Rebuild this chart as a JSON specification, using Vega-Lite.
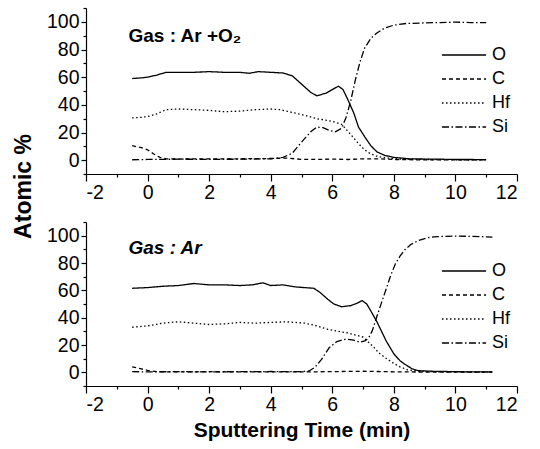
{
  "$schema": "https://vega.github.io/schema/vega-lite/v6.json",
  "padding": {"left": 12, "top": 7, "right": 8, "bottom": 4},
  "background": "white",
  "config": {
    "view": {"stroke": null},
    "font": "Liberation Sans",
    "axis": {
      "domainColor": "black", "tickColor": "black", "labelColor": "black", "titleColor": "black",
      "grid": false, "labelFont": "Liberation Sans", "titleFont": "Liberation Sans",
      "labelFontSize": 19.5, "domainWidth": 1.2, "tickWidth": 1.2, "titleFontWeight": "bold", "titleFontSize": 21,
      "labelExpr": "replace(datum.label, '\u2212', '-')"
    },
    "legend": {"labelFont": "Liberation Sans", "labelFontSize": 18, "labelColor": "black"}
  },
  "data": {"values": [
    {"panel":"top","el":"O","t":-0.5,"v":59},{"panel":"top","el":"O","t":-0.2,"v":59.5},{"panel":"top","el":"O","t":0,"v":60},{"panel":"top","el":"O","t":0.3,"v":61.5},{"panel":"top","el":"O","t":0.6,"v":63.5},{"panel":"top","el":"O","t":1,"v":63.5},{"panel":"top","el":"O","t":1.5,"v":63.5},{"panel":"top","el":"O","t":2,"v":64},{"panel":"top","el":"O","t":2.5,"v":63.5},{"panel":"top","el":"O","t":3,"v":63.5},{"panel":"top","el":"O","t":3.3,"v":62.8},{"panel":"top","el":"O","t":3.6,"v":64},{"panel":"top","el":"O","t":4,"v":63.5},{"panel":"top","el":"O","t":4.4,"v":63},{"panel":"top","el":"O","t":4.7,"v":61},{"panel":"top","el":"O","t":5,"v":55},{"panel":"top","el":"O","t":5.3,"v":49},{"panel":"top","el":"O","t":5.5,"v":46.5},{"panel":"top","el":"O","t":5.8,"v":48.5},{"panel":"top","el":"O","t":6,"v":51},{"panel":"top","el":"O","t":6.2,"v":53.5},{"panel":"top","el":"O","t":6.35,"v":51},{"panel":"top","el":"O","t":6.5,"v":44},{"panel":"top","el":"O","t":6.7,"v":34},{"panel":"top","el":"O","t":6.85,"v":24},{"panel":"top","el":"O","t":7.05,"v":17},{"panel":"top","el":"O","t":7.25,"v":10.5},{"panel":"top","el":"O","t":7.45,"v":6},{"panel":"top","el":"O","t":7.7,"v":3.5},{"panel":"top","el":"O","t":8,"v":2},{"panel":"top","el":"O","t":8.5,"v":1},{"panel":"top","el":"O","t":9,"v":0.8},{"panel":"top","el":"O","t":9.5,"v":0.7},{"panel":"top","el":"O","t":10,"v":0.5},{"panel":"top","el":"O","t":10.5,"v":0.5},{"panel":"top","el":"O","t":11,"v":0.3},
    {"panel":"top","el":"C","t":-0.5,"v":10.5},{"panel":"top","el":"C","t":-0.2,"v":9},{"panel":"top","el":"C","t":0,"v":7.5},{"panel":"top","el":"C","t":0.2,"v":4.5},{"panel":"top","el":"C","t":0.4,"v":2},{"panel":"top","el":"C","t":0.6,"v":1},{"panel":"top","el":"C","t":1,"v":0.8},{"panel":"top","el":"C","t":2,"v":1},{"panel":"top","el":"C","t":3,"v":1},{"panel":"top","el":"C","t":4,"v":1.2},{"panel":"top","el":"C","t":4.5,"v":1.5},{"panel":"top","el":"C","t":5,"v":0.6},{"panel":"top","el":"C","t":5.5,"v":0.5},{"panel":"top","el":"C","t":6,"v":0.8},{"panel":"top","el":"C","t":6.5,"v":0.5},{"panel":"top","el":"C","t":7,"v":1},{"panel":"top","el":"C","t":7.5,"v":1},{"panel":"top","el":"C","t":8,"v":0.5},{"panel":"top","el":"C","t":9,"v":0.2},{"panel":"top","el":"C","t":10,"v":0.2},{"panel":"top","el":"C","t":11,"v":0.2},
    {"panel":"top","el":"Hf","t":-0.5,"v":30.5},{"panel":"top","el":"Hf","t":-0.2,"v":31},{"panel":"top","el":"Hf","t":0,"v":31.5},{"panel":"top","el":"Hf","t":0.3,"v":33.5},{"panel":"top","el":"Hf","t":0.6,"v":36.5},{"panel":"top","el":"Hf","t":1,"v":37},{"panel":"top","el":"Hf","t":1.5,"v":36.5},{"panel":"top","el":"Hf","t":2,"v":36},{"panel":"top","el":"Hf","t":2.5,"v":35},{"panel":"top","el":"Hf","t":3,"v":35.5},{"panel":"top","el":"Hf","t":3.5,"v":36.5},{"panel":"top","el":"Hf","t":4,"v":37},{"panel":"top","el":"Hf","t":4.3,"v":36.5},{"panel":"top","el":"Hf","t":4.7,"v":34.5},{"panel":"top","el":"Hf","t":5,"v":33},{"panel":"top","el":"Hf","t":5.5,"v":30},{"panel":"top","el":"Hf","t":6,"v":28},{"panel":"top","el":"Hf","t":6.3,"v":26},{"panel":"top","el":"Hf","t":6.5,"v":21},{"panel":"top","el":"Hf","t":6.7,"v":16},{"panel":"top","el":"Hf","t":6.85,"v":12},{"panel":"top","el":"Hf","t":7.05,"v":7.5},{"panel":"top","el":"Hf","t":7.25,"v":4.5},{"panel":"top","el":"Hf","t":7.5,"v":2.5},{"panel":"top","el":"Hf","t":7.8,"v":1.5},{"panel":"top","el":"Hf","t":8.2,"v":0.8},{"panel":"top","el":"Hf","t":9,"v":0.5},{"panel":"top","el":"Hf","t":10,"v":0.3},{"panel":"top","el":"Hf","t":11,"v":0.2},
    {"panel":"top","el":"Si","t":-0.5,"v":0.3},{"panel":"top","el":"Si","t":0,"v":0.5},{"panel":"top","el":"Si","t":1,"v":0.7},{"panel":"top","el":"Si","t":2,"v":0.6},{"panel":"top","el":"Si","t":3,"v":0.7},{"panel":"top","el":"Si","t":4,"v":1},{"panel":"top","el":"Si","t":4.4,"v":2},{"panel":"top","el":"Si","t":4.7,"v":5},{"panel":"top","el":"Si","t":5,"v":13},{"panel":"top","el":"Si","t":5.3,"v":20.5},{"panel":"top","el":"Si","t":5.5,"v":24},{"panel":"top","el":"Si","t":5.7,"v":23.5},{"panel":"top","el":"Si","t":5.9,"v":21.5},{"panel":"top","el":"Si","t":6.1,"v":20.5},{"panel":"top","el":"Si","t":6.3,"v":23},{"panel":"top","el":"Si","t":6.45,"v":31},{"panel":"top","el":"Si","t":6.6,"v":43},{"panel":"top","el":"Si","t":6.75,"v":58},{"panel":"top","el":"Si","t":6.9,"v":71},{"panel":"top","el":"Si","t":7.05,"v":81},{"panel":"top","el":"Si","t":7.25,"v":88},{"panel":"top","el":"Si","t":7.45,"v":92},{"panel":"top","el":"Si","t":7.7,"v":95.5},{"panel":"top","el":"Si","t":8,"v":97.6},{"panel":"top","el":"Si","t":8.4,"v":98.8},{"panel":"top","el":"Si","t":9,"v":99.2},{"panel":"top","el":"Si","t":9.5,"v":99.5},{"panel":"top","el":"Si","t":10,"v":99.8},{"panel":"top","el":"Si","t":10.5,"v":99.5},{"panel":"top","el":"Si","t":11,"v":99.5},
    {"panel":"bottom","el":"O","t":-0.5,"v":61.5},{"panel":"bottom","el":"O","t":0,"v":62},{"panel":"bottom","el":"O","t":0.5,"v":63},{"panel":"bottom","el":"O","t":1,"v":63.5},{"panel":"bottom","el":"O","t":1.5,"v":65},{"panel":"bottom","el":"O","t":2,"v":64},{"panel":"bottom","el":"O","t":2.5,"v":64},{"panel":"bottom","el":"O","t":3,"v":63.5},{"panel":"bottom","el":"O","t":3.4,"v":64},{"panel":"bottom","el":"O","t":3.75,"v":65.5},{"panel":"bottom","el":"O","t":4,"v":63.5},{"panel":"bottom","el":"O","t":4.4,"v":64},{"panel":"bottom","el":"O","t":4.8,"v":62.5},{"panel":"bottom","el":"O","t":5.1,"v":62},{"panel":"bottom","el":"O","t":5.4,"v":61.5},{"panel":"bottom","el":"O","t":5.6,"v":58.5},{"panel":"bottom","el":"O","t":5.85,"v":53.5},{"panel":"bottom","el":"O","t":6.05,"v":50},{"panel":"bottom","el":"O","t":6.3,"v":48},{"panel":"bottom","el":"O","t":6.6,"v":48.8},{"panel":"bottom","el":"O","t":6.8,"v":50.5},{"panel":"bottom","el":"O","t":6.97,"v":52.5},{"panel":"bottom","el":"O","t":7.12,"v":50},{"panel":"bottom","el":"O","t":7.25,"v":45},{"panel":"bottom","el":"O","t":7.45,"v":37},{"panel":"bottom","el":"O","t":7.6,"v":30},{"panel":"bottom","el":"O","t":7.75,"v":23},{"panel":"bottom","el":"O","t":8,"v":13.5},{"panel":"bottom","el":"O","t":8.2,"v":8.5},{"panel":"bottom","el":"O","t":8.35,"v":6},{"panel":"bottom","el":"O","t":8.6,"v":2.5},{"panel":"bottom","el":"O","t":8.8,"v":1.2},{"panel":"bottom","el":"O","t":9.2,"v":0.8},{"panel":"bottom","el":"O","t":10,"v":0.5},{"panel":"bottom","el":"O","t":10.5,"v":0.3},{"panel":"bottom","el":"O","t":11.2,"v":0.3},
    {"panel":"bottom","el":"C","t":-0.5,"v":4},{"panel":"bottom","el":"C","t":-0.2,"v":2.5},{"panel":"bottom","el":"C","t":0,"v":1.5},{"panel":"bottom","el":"C","t":0.3,"v":0.5},{"panel":"bottom","el":"C","t":1,"v":0.3},{"panel":"bottom","el":"C","t":2,"v":0.5},{"panel":"bottom","el":"C","t":3,"v":0.3},{"panel":"bottom","el":"C","t":4,"v":0.4},{"panel":"bottom","el":"C","t":5,"v":0.3},{"panel":"bottom","el":"C","t":6,"v":0.5},{"panel":"bottom","el":"C","t":7,"v":0.8},{"panel":"bottom","el":"C","t":7.5,"v":0.6},{"panel":"bottom","el":"C","t":8,"v":0.4},{"panel":"bottom","el":"C","t":9,"v":0.2},{"panel":"bottom","el":"C","t":10,"v":0.2},{"panel":"bottom","el":"C","t":11.2,"v":0.2},
    {"panel":"bottom","el":"Hf","t":-0.5,"v":33},{"panel":"bottom","el":"Hf","t":0,"v":34},{"panel":"bottom","el":"Hf","t":0.5,"v":36},{"panel":"bottom","el":"Hf","t":1,"v":37},{"panel":"bottom","el":"Hf","t":1.5,"v":36},{"panel":"bottom","el":"Hf","t":2,"v":35},{"panel":"bottom","el":"Hf","t":2.5,"v":35.5},{"panel":"bottom","el":"Hf","t":3,"v":36.5},{"panel":"bottom","el":"Hf","t":3.5,"v":36},{"panel":"bottom","el":"Hf","t":4,"v":36.5},{"panel":"bottom","el":"Hf","t":4.5,"v":37},{"panel":"bottom","el":"Hf","t":5.1,"v":36},{"panel":"bottom","el":"Hf","t":5.5,"v":34},{"panel":"bottom","el":"Hf","t":5.85,"v":31.5},{"panel":"bottom","el":"Hf","t":6.2,"v":30},{"panel":"bottom","el":"Hf","t":6.5,"v":28.8},{"panel":"bottom","el":"Hf","t":7,"v":25.8},{"panel":"bottom","el":"Hf","t":7.2,"v":21.5},{"panel":"bottom","el":"Hf","t":7.35,"v":18.3},{"panel":"bottom","el":"Hf","t":7.5,"v":14.5},{"panel":"bottom","el":"Hf","t":7.7,"v":11},{"panel":"bottom","el":"Hf","t":8,"v":6.5},{"panel":"bottom","el":"Hf","t":8.2,"v":4},{"panel":"bottom","el":"Hf","t":8.45,"v":1.8},{"panel":"bottom","el":"Hf","t":8.8,"v":0.8},{"panel":"bottom","el":"Hf","t":9.5,"v":0.4},{"panel":"bottom","el":"Hf","t":10.5,"v":0.3},{"panel":"bottom","el":"Hf","t":11.2,"v":0.2},
    {"panel":"bottom","el":"Si","t":-0.5,"v":0.5},{"panel":"bottom","el":"Si","t":0,"v":0.3},{"panel":"bottom","el":"Si","t":1,"v":0.5},{"panel":"bottom","el":"Si","t":2,"v":0.3},{"panel":"bottom","el":"Si","t":3,"v":0.5},{"panel":"bottom","el":"Si","t":4,"v":0.6},{"panel":"bottom","el":"Si","t":5,"v":0.5},{"panel":"bottom","el":"Si","t":5.25,"v":1},{"panel":"bottom","el":"Si","t":5.45,"v":4},{"panel":"bottom","el":"Si","t":5.65,"v":9.5},{"panel":"bottom","el":"Si","t":5.9,"v":18},{"panel":"bottom","el":"Si","t":6.15,"v":22.5},{"panel":"bottom","el":"Si","t":6.45,"v":24.4},{"panel":"bottom","el":"Si","t":6.7,"v":23.5},{"panel":"bottom","el":"Si","t":6.9,"v":22},{"panel":"bottom","el":"Si","t":7.08,"v":23.2},{"panel":"bottom","el":"Si","t":7.2,"v":26},{"panel":"bottom","el":"Si","t":7.3,"v":30.5},{"panel":"bottom","el":"Si","t":7.45,"v":41},{"panel":"bottom","el":"Si","t":7.6,"v":51},{"panel":"bottom","el":"Si","t":7.75,"v":61},{"panel":"bottom","el":"Si","t":7.9,"v":71},{"panel":"bottom","el":"Si","t":8.05,"v":79.5},{"panel":"bottom","el":"Si","t":8.2,"v":85},{"panel":"bottom","el":"Si","t":8.35,"v":89.5},{"panel":"bottom","el":"Si","t":8.55,"v":93.5},{"panel":"bottom","el":"Si","t":8.8,"v":96.5},{"panel":"bottom","el":"Si","t":9.1,"v":98.5},{"panel":"bottom","el":"Si","t":9.4,"v":99.3},{"panel":"bottom","el":"Si","t":10,"v":99.7},{"panel":"bottom","el":"Si","t":10.5,"v":99.5},{"panel":"bottom","el":"Si","t":11.2,"v":99}
  ]},
  "spacing": 48,
  "bounds": "flush",
  "resolve": {"legend": {"strokeDash": "independent"}},
  "vconcat": [
    {
      "width": 431, "height": 166,
      "resolve": {"axis": {"x": "independent", "y": "independent"}},
      "layer": [
        {
          "transform": [{"filter": "datum.panel === 'top'"}],
          "mark": {"type": "line", "color": "black", "strokeWidth": 1.3},
          "encoding": {
            "x": {"field": "t", "type": "quantitative", "scale": {"domain": [-2, 12], "nice": false, "zero": false},
                  "axis": {"orient": "bottom", "values": [-2,0,2,4,6,8,10,12], "tickSize": 7, "labelPadding": 2, "title": null}},
            "y": {"field": "v", "type": "quantitative", "scale": {"domain": [-10, 110], "nice": false},
                  "axis": {"orient": "left", "values": [0,20,40,60,80,100], "tickSize": 5, "labelPadding": 2,
                           "title": "Atomic %", "titleFontSize": 23, "titleX": -56, "titleY": 178, "titleAngle": 270,
                           "titleAlign": "center", "titleBaseline": "alphabetic"}},
            "strokeDash": {"field": "el", "type": "nominal",
                           "scale": {"domain": ["O","C","Hf","Si"], "range": [[1,0],[4,3],[1.5,2.5],[7,2.5,1.5,2.5]]},
                           "legend": {"orient": "none", "legendX": 355, "legendY": 37, "title": null, "direction": "vertical",
                                      "symbolType": "stroke", "symbolSize": 1936, "symbolStrokeWidth": 1.3, "symbolStrokeColor": "black",
                                      "clipHeight": 20, "rowPadding": 4, "labelOffset": 5}},
            "detail": {"field": "el"}
          }
        },
        {
          "data": {"values": [{"label": "Gas : Ar +O₂"}]},
          "mark": {"type": "text", "align": "left", "baseline": "alphabetic", "fontSize": 19, "fontWeight": "bold", "font": "Liberation Sans", "color": "black"},
          "encoding": {
            "text": {"field": "label"},
            "x": {"datum": -0.62, "type": "quantitative", "axis": {"orient": "bottom", "values": [-1,1,3,5,7,9,11], "labels": false, "domain": false, "tickSize": 3, "title": null}},
            "y": {"datum": 85.5, "type": "quantitative", "axis": {"orient": "left", "values": [-10,10,30,50,70,90,110], "labels": false, "domain": false, "tickSize": 3, "title": null}}
          }
        }
      ]
    },
    {
      "width": 431, "height": 164,
      "resolve": {"axis": {"x": "independent", "y": "independent"}},
      "layer": [
        {
          "transform": [{"filter": "datum.panel === 'bottom'"}],
          "mark": {"type": "line", "color": "black", "strokeWidth": 1.3},
          "encoding": {
            "x": {"field": "t", "type": "quantitative", "scale": {"domain": [-2, 12], "nice": false, "zero": false},
                  "axis": {"orient": "bottom", "values": [-2,0,2,4,6,8,10,12], "tickSize": 7, "labelPadding": 2,
                           "title": "Sputtering Time (min)", "titleFontSize": 21, "titlePadding": 6}},
            "y": {"field": "v", "type": "quantitative", "scale": {"domain": [-10, 110], "nice": false},
                  "axis": {"orient": "left", "values": [0,20,40,60,80,100], "tickSize": 5, "labelPadding": 2, "title": null}},
            "strokeDash": {"field": "el", "type": "nominal",
                           "scale": {"domain": ["O","C","Hf","Si"], "range": [[1,0],[4,3],[1.5,2.5],[7,2.5,1.5,2.5]]},
                           "legend": {"orient": "none", "legendX": 355, "legendY": 39, "title": null, "direction": "vertical",
                                      "symbolType": "stroke", "symbolSize": 1936, "symbolStrokeWidth": 1.3, "symbolStrokeColor": "black",
                                      "clipHeight": 20, "rowPadding": 4, "labelOffset": 5}},
            "detail": {"field": "el"}
          }
        },
        {
          "data": {"values": [{"label": "Gas : Ar"}]},
          "mark": {"type": "text", "align": "left", "baseline": "alphabetic", "fontSize": 19, "fontWeight": "bold", "fontStyle": "italic", "font": "Liberation Sans", "color": "black"},
          "encoding": {
            "text": {"field": "label"},
            "x": {"datum": -0.62, "type": "quantitative", "axis": {"orient": "bottom", "values": [-1,1,3,5,7,9,11], "labels": false, "domain": false, "tickSize": 3, "title": null}},
            "y": {"datum": 86.6, "type": "quantitative", "axis": {"orient": "left", "values": [-10,10,30,50,70,90,110], "labels": false, "domain": false, "tickSize": 3, "title": null}}
          }
        }
      ]
    }
  ]
}
